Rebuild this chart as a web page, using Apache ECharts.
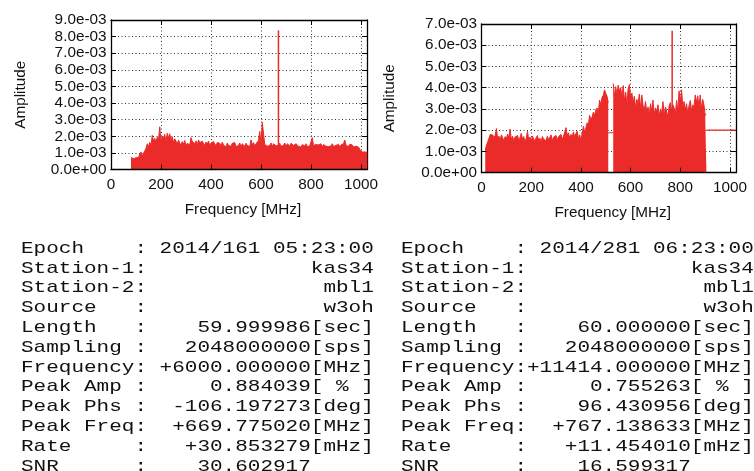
<!DOCTYPE html>
<html>
<head>
<meta charset="utf-8">
<title>Cross-spectrum amplitude: kas34 - mbl1, w3oh</title>
<script src="https://cdn.jsdelivr.net/npm/echarts@6/dist/echarts.min.js"></script>
<style>
  html, body { margin: 0; padding: 0; background: #ffffff; }
  #chart { width: 754px; height: 471px; }
</style>
</head>
<body>
<div id="chart"></div>
<script>
// Amplitudes are listed in units of 1e-3; frequencies in MHz.
const AMP_UNIT = 1e-3;
const FREQ_STEP = 5;
const FREQ_MAX = 1024;
const FREQ_TICK = 200;

// Scan 1 (2014/161): spectrum envelope sampled every 5 MHz from 80 MHz
const LEFT_F0 = 80;
const leftAmp = [
  0.72, 0.78, 0.66, 0.75, 0.70, 0.80, 0.74, 0.68, 1.06, 0.82,
  0.98, 1.12, 1.28, 1.55, 1.36, 1.64, 1.45, 2.06, 1.70, 1.88,
  1.62, 1.95, 1.78, 2.57, 1.72, 2.02, 1.85, 2.12, 1.68, 2.18,
  1.90, 2.15, 1.75, 1.98, 1.62, 1.85, 1.70, 1.52, 1.78, 1.60,
  1.45, 1.68, 1.52, 1.75, 1.40, 1.58, 1.62, 1.48, 1.92, 1.70,
  1.80, 1.55, 1.72, 1.48, 1.78, 1.62, 1.50, 1.70, 1.58, 1.45,
  1.65, 1.52, 1.72, 1.40, 1.60, 1.48, 1.68, 1.55, 1.42, 1.62,
  1.50, 1.58, 1.38, 1.65, 1.48, 1.55, 1.35, 1.60, 1.45, 1.52,
  1.40, 1.58, 1.48, 1.62, 1.38, 1.50, 1.45, 1.60, 1.35, 1.55,
  1.48, 1.40, 1.58, 1.45, 1.52, 1.38, 1.78, 1.48, 1.62, 1.42,
  1.55, 1.62, 1.75, 2.30, 1.58, 2.85, 2.80, 1.50, 1.45, 1.40,
  1.52, 1.45, 1.60, 1.38, 1.55, 1.48, 1.42, 1.50, 1.45, 1.58,
  1.40, 1.52, 1.45, 1.60, 1.38, 1.55, 1.48, 1.42, 1.58, 1.50,
  1.45, 1.38, 1.55, 1.48, 1.40, 1.52, 1.35, 1.50, 1.45, 1.42,
  1.55, 1.38, 1.48, 1.42, 1.52, 1.92, 1.45, 1.40, 1.50, 1.38,
  1.48, 1.42, 1.55, 1.35, 1.50, 1.45, 1.40, 1.52, 1.38, 1.48,
  1.42, 1.55, 1.38, 1.50, 1.45, 1.40, 1.52, 1.35, 1.48, 1.42,
  1.55, 1.78, 1.45, 1.50, 1.38, 1.52, 1.42, 1.48, 1.35, 1.45,
  1.40, 1.30, 1.35, 1.22, 1.10, 1.05, 0.98, 1.06, 0.95, 1.02
];
const leftPeak = [669.775020, 8.38];   // [MHz, 1e-3]
const LEFT_AMP_MAX = 9;

// Scan 2 (2014/281): spectrum envelope sampled every 5 MHz from 15 MHz
const RIGHT_F0 = 15;
const rightAmp = [
  1.05, 1.30, 1.45, 1.62, 1.80, 1.72, 1.78, 1.65, 1.75, 2.08,
  1.60, 1.72, 1.55, 1.78, 1.65, 1.50, 1.70, 1.58, 1.82, 1.62,
  2.05, 1.55, 1.72, 1.48, 1.68, 1.60, 1.75, 1.52, 1.65, 1.85,
  1.58, 1.70, 1.45, 1.62, 1.95, 1.55, 1.68, 1.50, 1.72, 1.60,
  1.48, 1.65, 1.75, 1.52, 1.62, 1.45, 1.70, 1.58, 1.66, 1.50,
  1.72, 1.55, 1.62, 1.78, 1.50, 1.68, 1.60, 1.75, 1.55, 1.70,
  1.62, 1.80, 1.58, 1.72, 1.65, 2.12, 1.75, 1.88, 1.62, 1.80,
  1.70, 1.92, 1.68, 1.85, 1.95, 1.60, 1.78, 1.52, 1.85, 2.18,
  1.90, 2.10, 2.35, 2.25, 2.70, 2.50, 2.62, 2.85, 2.70, 2.95,
  3.05, 2.80, 3.42, 3.20, 3.55, 3.65, 3.90, 3.74, 3.60, 3.30,
  null, null, null, 4.20, 3.60, 4.05, 3.70, 4.12, 3.85, 4.00,
  3.55, 4.10, 3.40, 3.80, 3.20, 3.95, 4.15, 3.50, 3.75, 3.30,
  3.60, 3.05, 3.45, 3.25, 3.70, 3.00, 3.66, 3.15, 2.95, 3.35,
  2.80, 3.10, 2.70, 3.25, 2.90, 3.42, 2.75, 3.05, 2.85, 3.20,
  2.65, 3.00, 2.80, 3.35, 2.70, 3.10, 2.90, 2.60, 3.15, 3.30,
  2.85, 3.20, 3.05, 2.75, 3.40, 2.90, 3.85, 3.30, 3.90, 3.10,
  3.35, 2.95, 3.25, 2.80, 3.15, 3.40, 2.90, 3.20, 3.05, 3.66,
  3.30, 3.62, 3.10, 3.66, 3.00, 3.45, 3.20, 2.70, 2.75
];
const rightPeak = [767.138633, 6.68];  // [MHz, 1e-3]
const rightGapLevel = [[510, 1.88], [530, 1.88]];
const rightTailLevel = [[905, 2.00], [1024, 2.00]];
const RIGHT_AMP_MAX = 7;

// Fringe-search summaries printed under each spectrum
const leftInfo = [
  'Epoch    : 2014/161 05:23:00',
  'Station-1:             kas34',
  'Station-2:              mbl1',
  'Source   :              w3oh',
  'Length   :    59.999986[sec]',
  'Sampling :   2048000000[sps]',
  'Frequency: +6000.000000[MHz]',
  'Peak Amp :     0.884039[ % ]',
  'Peak Phs :  -106.197273[deg]',
  'Peak Freq:  +669.775020[MHz]',
  'Rate     :   +30.853279[mHz]',
  'SNR      :    30.602917'
];
const rightInfo = [
  'Epoch    : 2014/281 06:23:00',
  'Station-1:             kas34',
  'Station-2:              mbl1',
  'Source   :              w3oh',
  'Length   :    60.000000[sec]',
  'Sampling :   2048000000[sps]',
  'Frequency:+11414.000000[MHz]',
  'Peak Amp :     0.755263[ % ]',
  'Peak Phs :    96.430956[deg]',
  'Peak Freq:  +767.138633[MHz]',
  'Rate     :   +11.454010[mHz]',
  'SNR      :    16.599317'
];

const RED = '#eb2a2a';
const SANS = '"Liberation Sans", Arial, Helvetica, sans-serif';
const MONO = '"Liberation Mono", "Courier New", monospace';

function band(f0, amps) {
  return amps.map((a, i) => [f0 + i * FREQ_STEP, a === null ? null : a * AMP_UNIT]);
}
function level(pts) {
  return pts.map(p => [p[0], p[1] * AMP_UNIT]);
}
function spike(p) {
  return [[p[0], 0], [p[0], p[1] * AMP_UNIT]];
}
// gnuplot-style %.1e labels: 9.0e-03, 0.0e+00
function sci(v) {
  return Number(v).toExponential(1).replace(/e([+-])(\d)$/, (m, s, d) => 'e' + s + '0' + d);
}
function plain(v) {
  return String(Math.round(v));
}

const labelFont = { color: '#111', fontFamily: SANS, fontSize: 15.3 };
const borderLine = { show: true, onZero: false, lineStyle: { color: '#000', width: 1.3 } };
const innerTick = { show: true, inside: true, length: 5, lineStyle: { color: '#000', width: 1 } };
const dotted = { show: true, lineStyle: { color: '#333', width: 1, type: [1, 2.5] } };

function xPair(gi, nameGap) {
  return [
    { gridIndex: gi, type: 'value', position: 'bottom', min: 0, max: FREQ_MAX, interval: FREQ_TICK, z: 5,
      name: 'Frequency [MHz]', nameLocation: 'middle', nameGap: nameGap,
      nameTextStyle: Object.assign({}, labelFont, { padding: [0, 0, 0, 8] }),
      axisLine: borderLine, axisTick: innerTick,
      axisLabel: Object.assign({ margin: 8, showMaxLabel: false, hideOverlap: false, formatter: plain }, labelFont),
      splitLine: { show: false } },
    { gridIndex: gi, type: 'value', position: 'top', min: 0, max: FREQ_MAX, interval: FREQ_TICK,
      axisLine: borderLine, axisTick: innerTick, axisLabel: { show: false }, splitLine: dotted }
  ];
}
function yPair(gi, ampMax, nameGap) {
  return [
    { gridIndex: gi, type: 'value', position: 'left', min: 0, max: ampMax * AMP_UNIT, interval: AMP_UNIT, z: 5,
      name: 'Amplitude', nameLocation: 'middle', nameGap: nameGap, nameTextStyle: labelFont,
      axisLine: borderLine, axisTick: innerTick,
      axisLabel: Object.assign({ margin: 4.5, formatter: sci }, labelFont),
      splitLine: { show: false } },
    { gridIndex: gi, type: 'value', position: 'right', min: 0, max: ampMax * AMP_UNIT, interval: AMP_UNIT,
      axisLine: borderLine, axisTick: innerTick, axisLabel: { show: false }, splitLine: dotted }
  ];
}

function areaSeries(xi, yi, data) {
  return { type: 'line', xAxisIndex: xi, yAxisIndex: yi, data: data, symbol: 'none', showSymbol: false,
    connectNulls: false, clip: true, z: 2,
    lineStyle: { color: RED, width: 1 }, itemStyle: { color: RED },
    areaStyle: { color: RED, opacity: 1 } };
}
function lineSeries(xi, yi, data, w) {
  return { type: 'line', xAxisIndex: xi, yAxisIndex: yi, data: data, symbol: 'none', showSymbol: false,
    clip: true, z: 3, lineStyle: { color: RED, width: w }, itemStyle: { color: RED } };
}

function infoText(lines, x0) {
  return lines.map((s, i) => ({
    type: 'text', x: x0, y: 248.2 + i * 19.8, scaleX: 1.235,
    style: { text: s, font: '17px ' + MONO, fill: '#111',
      align: 'left', verticalAlign: 'middle', textAlign: 'left', textVerticalAlign: 'middle' }
  }));
}

const chart = echarts.init(document.getElementById('chart'), null, { renderer: 'canvas' });
chart.setOption({
  animation: false,
  backgroundColor: '#ffffff',
  grid: [
    { left: 111, top: 20, width: 256, height: 149.5 },
    { left: 481.5, top: 24, width: 254.5, height: 148.7 }
  ],
  xAxis: [].concat(xPair(0, 33), xPair(1, 33)),
  yAxis: [].concat(yPair(0, LEFT_AMP_MAX, 83), yPair(1, RIGHT_AMP_MAX, 84)),
  series: [
    areaSeries(0, 0, band(LEFT_F0, leftAmp)),
    lineSeries(0, 0, spike(leftPeak), 1.5),
    areaSeries(2, 2, band(RIGHT_F0, rightAmp)),
    lineSeries(2, 2, level(rightGapLevel), 1.2),
    lineSeries(2, 2, level(rightTailLevel), 1.2),
    lineSeries(2, 2, spike(rightPeak), 1.5)
  ],
  graphic: [].concat(infoText(leftInfo, 21), infoText(rightInfo, 401))
});
</script>
</body>
</html>
